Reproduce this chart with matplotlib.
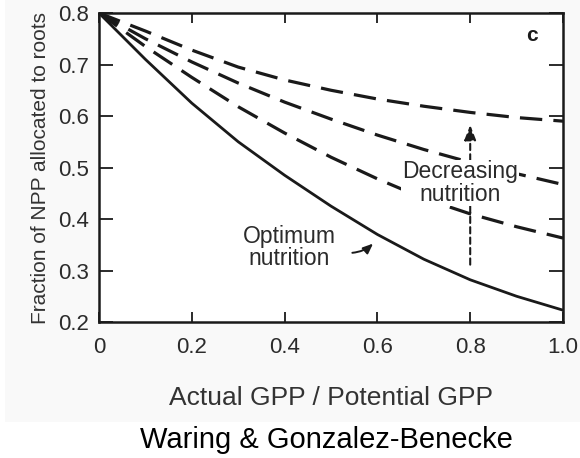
import numpy as np
import matplotlib.pyplot as plt
from matplotlib.patches import Rectangle

plt.rcParams['font.family'] = ['Liberation Sans', 'DejaVu Sans']

# ratio of actual to potential GPP
gpp_ratio = [0.0, 0.1, 0.2, 0.3, 0.4, 0.5, 0.6, 0.7, 0.8, 0.9, 1.0]

# fraction of NPP allocated to roots
optimum = [0.80, 0.71, 0.625, 0.55, 0.485, 0.425, 0.37, 0.322, 0.282, 0.25, 0.223]
dashed_low = [0.80, 0.735, 0.675, 0.618, 0.567, 0.52, 0.478, 0.44, 0.41, 0.385, 0.363]
dashed_mid = [0.80, 0.75, 0.705, 0.664, 0.627, 0.594, 0.563, 0.535, 0.51, 0.488, 0.467]
dashed_high = [0.80, 0.765, 0.728, 0.695, 0.67, 0.65, 0.633, 0.619, 0.607, 0.597, 0.59]

xticks = [0, 0.2, 0.4, 0.6, 0.8, 1.0]
xticklabels = ['0', '0.2', '0.4', '0.6', '0.8', '1.0']
yticks = [0.2, 0.3, 0.4, 0.5, 0.6, 0.7, 0.8]

ink = '#1a1a1a'
txt = '#2b2b2b'

fig = plt.figure(figsize=(5.8, 4.58), dpi=100)
fig.patches.append(Rectangle((0.008, 0.079), 0.992, 0.921, transform=fig.transFigure,
                             facecolor='#f9f9f9', edgecolor='none', zorder=-5))
ax = fig.add_axes([0.1707, 0.2969, 0.8, 0.6747])
ax.set_facecolor('white')

ax.plot(gpp_ratio, optimum, color=ink, lw=2.0, solid_capstyle='round')
for ys in (dashed_low, dashed_mid, dashed_high):
    ax.plot(gpp_ratio, ys, color=ink, lw=2.3, dashes=(7, 3.5))

ax.set_xlim(0, 1.0)
ax.set_ylim(0.2, 0.8)
ax.set_xticks(xticks)
ax.set_xticklabels(xticklabels)
ax.set_yticks(yticks)
ax.tick_params(axis='both', direction='in', top=True, right=True, width=1.3,
               color=ink, labelcolor=txt, labelsize=16)
ax.tick_params(axis='y', length=10, pad=7)
ax.tick_params(axis='x', length=7, pad=11)
for s in ax.spines.values():
    s.set_linewidth(1.8)
    s.set_color(ink)

ax.set_xlabel('Actual GPP / Potential GPP', fontsize=19, color='#333333', labelpad=20)
ax.set_ylabel('Fraction of NPP allocated to roots', fontsize=15, color='#333333', labelpad=6)

ax.text(0.933, 0.757, 'c', fontsize=15, fontweight='bold', color=ink, ha='center', va='center')

# decreasing nutrition arrow
ax.annotate('', xy=(0.8, 0.588), xytext=(0.8, 0.306),
            arrowprops=dict(arrowstyle='-|>,head_length=0.9,head_width=0.35', color=ink,
                            lw=1.5, linestyle=(0, (3, 2))))
ax.text(0.778, 0.47, 'Decreasing\nnutrition', fontsize=16.5, color=txt, ha='center',
        va='center', linespacing=0.95,
        bbox=dict(facecolor='white', edgecolor='none', pad=0.5))

# optimum nutrition
ax.text(0.41, 0.345, 'Optimum\nnutrition', fontsize=16.5, color=txt, ha='center',
        va='center', linespacing=0.95)
ax.annotate('', xy=(0.595, 0.356), xytext=(0.54, 0.334),
            arrowprops=dict(arrowstyle='-|>,head_length=0.6,head_width=0.25', color=ink,
                            lw=1.4, connectionstyle='arc3,rad=0.2'))

fig.text(326 / 580, 1 - 440 / 458, 'Waring & Gonzalez-Benecke', fontsize=21, color='black',
         ha='center', va='center')

fig.savefig('out.png', dpi=100)
